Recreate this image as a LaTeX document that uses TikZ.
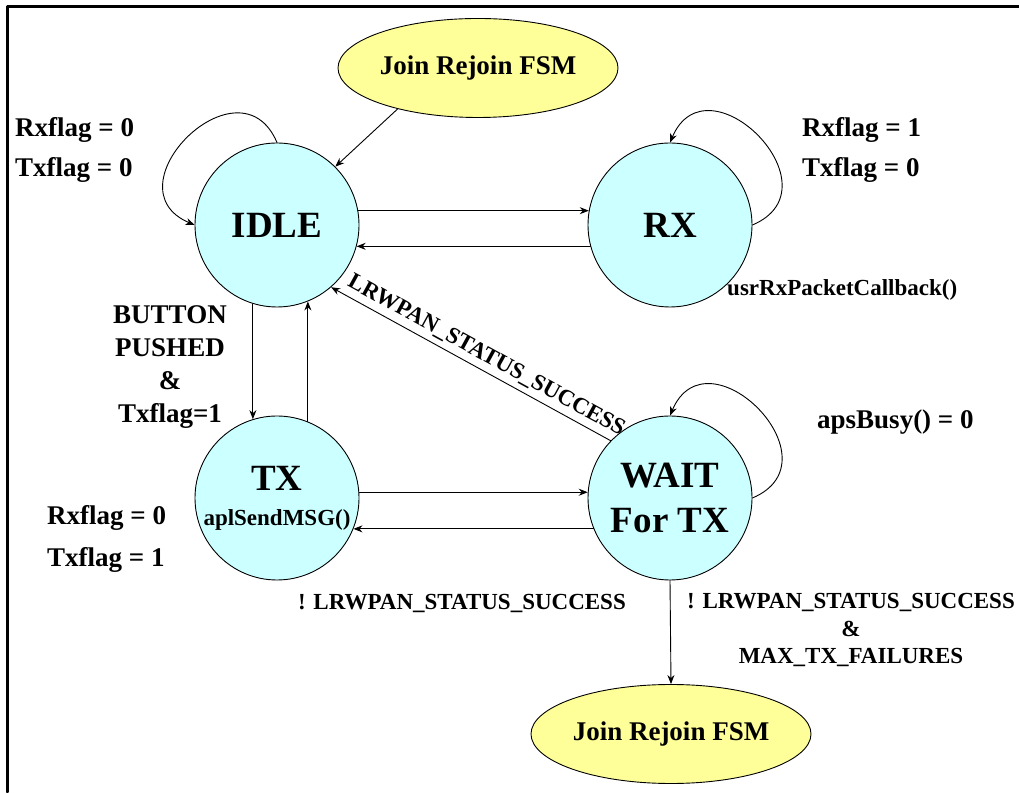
\documentclass[tikz,border=0pt]{standalone}
\usepackage{fontspec}
\setmainfont{Liberation Serif}
\usetikzlibrary{shapes.geometric,arrows.meta}
\definecolor{stcyan}{RGB}{204,255,255}
\definecolor{fsmyellow}{RGB}{255,255,153}

\begin{document}
\begin{tikzpicture}[x=1pt,y=1pt,>={Stealth[length=9pt,width=7pt]}, line join=round, line cap=round,
	state/.style={circle,draw,line width=0.9pt,fill=stcyan,minimum size=164pt,inner sep=0pt,align=center,font=\fontsize{37}{45}\selectfont\bfseries},
	fsm/.style={ellipse,draw,line width=0.9pt,fill=fsmyellow,minimum width=280pt,minimum height=99pt,inner sep=0pt,font=\fontsize{27}{30}\selectfont\bfseries},
	flag/.style={inner sep=0pt,anchor=west,align=left,font=\fontsize{27}{40}\selectfont\bfseries},
	cond/.style={inner sep=0pt,align=center,font=\fontsize{23}{27.5}\selectfont\bfseries},
	trans/.style={->,line width=0.9pt}]
	\useasboundingbox (0,0) rectangle (1019,792);
	\draw[line width=3pt] (7.5,0) -- (7.5,785.5) -- (1019,785.5);
	\node[fsm] (jtop) at (478,724) {Join Rejoin FSM};
	\node[state] (idle) at (277,567) {IDLE};
	\node[state] (rx) at (670,567) {RX};
	\node[state] (tx) at (277,294) {TX\\[-10pt]{\fontsize{23}{27}\selectfont aplSendMSG()}};
	\node[state] (wait) at (670,294) {WAIT\\For TX};
	\node[fsm] (jbot) at (671,58) {Join Rejoin FSM};
	\draw[trans] (jtop.207) -- (idle.45);
	\draw[trans] (idle.10) -- (rx.170);
	\draw[trans] (rx.195) -- (idle.345);
	\draw[trans] (idle.253) -- (tx.107);
	\draw[trans] (tx.68) -- (idle.292);
	\draw[trans] (tx.4) -- (wait.176);
	\draw[trans] (wait.202) -- (tx.338);
	\draw[trans] (wait.136) -- node[cond,sloped,above=5pt,pos=0.47] {LRWPAN\_STATUS\_SUCCESS} (idle.311);
	\draw[trans] (wait.south) -- (jbot.north);
	\draw[trans] (idle.90) to[out=113,in=157,looseness=2.1] (idle.180);
	\draw[trans] (rx.0) to[out=23,in=67,looseness=2.1] (rx.90);
	\draw[trans] (wait.0) to[out=23,in=67,looseness=2.1] (wait.90);
	\node[flag] (idleflag) at (15,642) {Rxflag = 0\\Txflag = 0};
	\node[flag] (rxflag) at (802,642) {Rxflag = 1\\Txflag = 0};
	\node[flag,font=\fontsize{27}{42}\selectfont\bfseries] (txflag) at (47,253) {Rxflag = 0\\Txflag = 1};
	\node[flag] (busy) at (817,370) {apsBusy() = 0};
	\node[cond,anchor=west] (rxcb) at (727,502) {usrRxPacketCallback()};
	\node[flag,anchor=center,align=center,font=\fontsize{27}{33}\selectfont\bfseries] (button) at (170,425) {BUTTON\\PUSHED\\\&\\Txflag=1};
	\node[cond] (txfail) at (462,189) {! LRWPAN\_STATUS\_SUCCESS};
	\node[cond] (maxfail) at (851,162) {! LRWPAN\_STATUS\_SUCCESS\\\&\\MAX\_TX\_FAILURES};
\end{tikzpicture}
\end{document}
